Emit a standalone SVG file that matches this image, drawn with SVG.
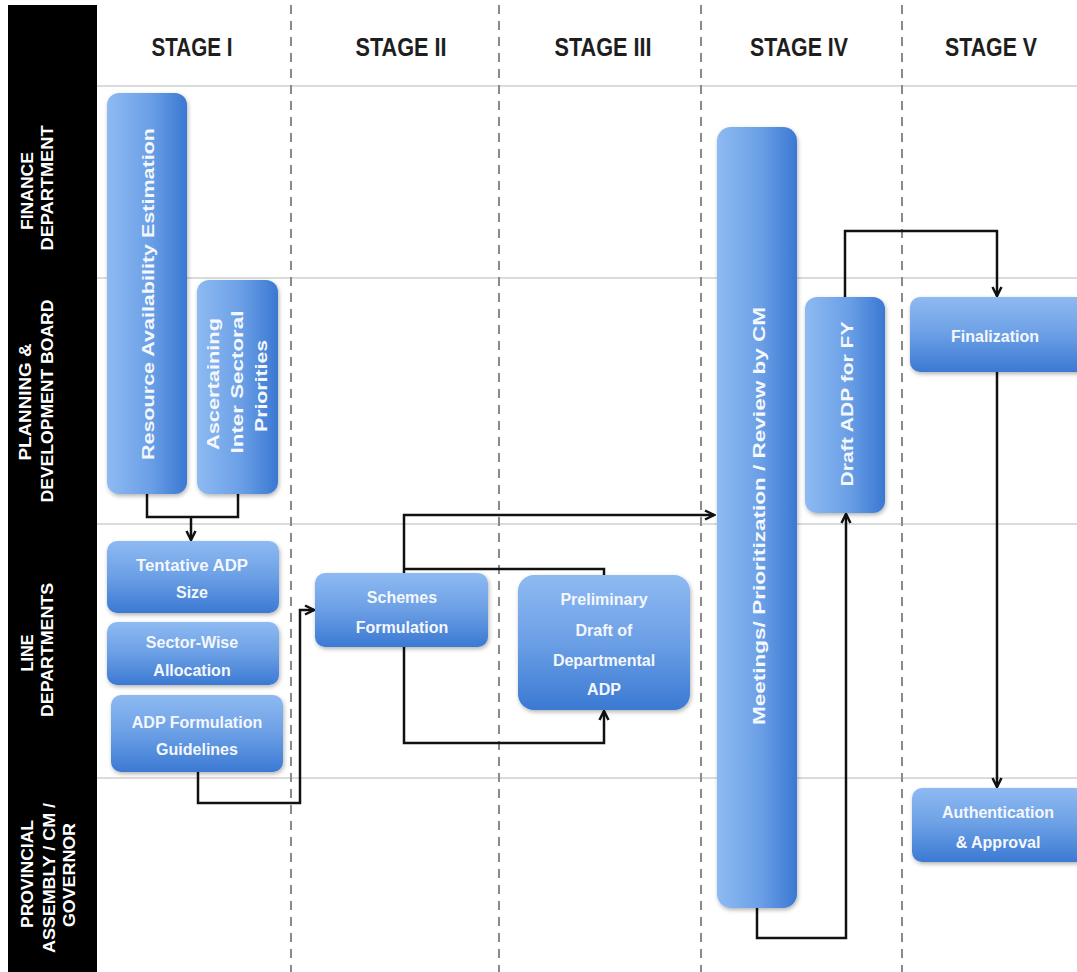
<svg xmlns="http://www.w3.org/2000/svg" width="1077" height="972" viewBox="0 0 1077 972">
<defs>
<style>
.lane{stroke:#cfcfcf;stroke-width:1.5}
.div{stroke:#8a8a8a;stroke-width:2;stroke-dasharray:9,7}
.hdr{font-family:"Liberation Sans",Arial,sans-serif;font-weight:bold;font-size:25px;fill:#1e1e1e;text-anchor:middle}
.lbl{font-family:"Liberation Sans",Arial,sans-serif;font-weight:bold;font-size:17px;fill:#fff;text-anchor:middle}
.bt{font-family:"Liberation Sans",Arial,sans-serif;font-weight:bold;font-size:16px;fill:#f4f7fc;text-anchor:middle}
.vbox{fill:url(#gv);filter:url(#sh)}
.hbox{fill:url(#gh);filter:url(#sh)}
.con{fill:none;stroke:#111;stroke-width:2.5}
</style>
<linearGradient id="gv" x1="0" y1="0" x2="1" y2="0">
<stop offset="0" stop-color="#8ebaf2"/><stop offset="0.55" stop-color="#6a9fe6"/><stop offset="1" stop-color="#3a78d2"/>
</linearGradient>
<linearGradient id="gh" x1="0" y1="0" x2="0" y2="1">
<stop offset="0" stop-color="#8ebaf2"/><stop offset="0.5" stop-color="#6b9fe5"/><stop offset="1" stop-color="#3b79d3"/>
</linearGradient>
<filter id="sh" x="-20%" y="-20%" width="140%" height="140%">
<feDropShadow dx="1" dy="2" stdDeviation="2" flood-color="#000" flood-opacity="0.3"/>
</filter>
<marker id="arr" viewBox="0 0 12 12" refX="10.5" refY="6" markerWidth="12" markerHeight="12" markerUnits="userSpaceOnUse" orient="auto">
<path d="M1.5,1.5 L10.5,6 L1.5,10.5" fill="none" stroke="#111" stroke-width="2.5"/>
</marker>
</defs>
<rect width="1077" height="972" fill="#fff"/>
<g id="grid">
<line class="lane" x1="97" y1="86" x2="1077" y2="86"/>
<line class="lane" x1="97" y1="278" x2="1077" y2="278"/>
<line class="lane" x1="97" y1="524" x2="1077" y2="524"/>
<line class="lane" x1="97" y1="778" x2="1077" y2="778"/>
<line class="div" x1="291" y1="5" x2="291" y2="972"/>
<line class="div" x1="499" y1="5" x2="499" y2="972"/>
<line class="div" x1="701" y1="5" x2="701" y2="972"/>
<line class="div" x1="902" y1="5" x2="902" y2="972"/>
</g>
<g id="lanes">
<rect x="8" y="5" width="89" height="967" fill="#000"/>
<text class="lbl" transform="translate(33,191) rotate(-90)" textLength="78" lengthAdjust="spacingAndGlyphs">FINANCE</text>
<text class="lbl" transform="translate(53,188) rotate(-90)" textLength="125" lengthAdjust="spacingAndGlyphs">DEPARTMENT</text>
<text class="lbl" transform="translate(31,402) rotate(-90)" textLength="117" lengthAdjust="spacingAndGlyphs">PLANNING &amp;</text>
<text class="lbl" transform="translate(53,401) rotate(-90)" textLength="203" lengthAdjust="spacingAndGlyphs">DEVELOPMENT BOARD</text>
<text class="lbl" transform="translate(33,653) rotate(-90)" textLength="37" lengthAdjust="spacingAndGlyphs">LINE</text>
<text class="lbl" transform="translate(53,650) rotate(-90)" textLength="134" lengthAdjust="spacingAndGlyphs">DEPARTMENTS</text>
<text class="lbl" transform="translate(33,874) rotate(-90)" textLength="108" lengthAdjust="spacingAndGlyphs">PROVINCIAL</text>
<text class="lbl" transform="translate(55,878) rotate(-90)" textLength="150" lengthAdjust="spacingAndGlyphs">ASSEMBLY / CM /</text>
<text class="lbl" transform="translate(75,875) rotate(-90)" textLength="104" lengthAdjust="spacingAndGlyphs">GOVERNOR</text>
</g>
<g id="headers">
<text class="hdr" x="192" y="56" textLength="81" lengthAdjust="spacingAndGlyphs">STAGE I</text>
<text class="hdr" x="401" y="56" textLength="91" lengthAdjust="spacingAndGlyphs">STAGE II</text>
<text class="hdr" x="603" y="56" textLength="97" lengthAdjust="spacingAndGlyphs">STAGE III</text>
<text class="hdr" x="799" y="56" textLength="98" lengthAdjust="spacingAndGlyphs">STAGE IV</text>
<text class="hdr" x="991" y="56" textLength="92" lengthAdjust="spacingAndGlyphs">STAGE V</text>
</g>
<g id="connectors">
<path class="con" d="M147,494 V517 H238 V494"/>
<path class="con" d="M191,517 V540" marker-end="url(#arr)"/>
<path class="con" d="M198,772 V803 H300 V610 H314" marker-end="url(#arr)"/>
<path class="con" d="M404,573 V515 H714" marker-end="url(#arr)"/>
<path class="con" d="M604,575 V569 H404"/>
<path class="con" d="M404,647 V743 H604 V711" marker-end="url(#arr)"/>
<path class="con" d="M757,908 V938 H846 V514" marker-end="url(#arr)"/>
<path class="con" d="M845,297 V231 H997 V296" marker-end="url(#arr)"/>
<path class="con" d="M997,372 V787" marker-end="url(#arr)"/>
</g>
<g id="n-resource">
<rect class="vbox" x="107" y="93" width="80" height="401" rx="12"/>
<text class="bt" font-size="17" transform="translate(154,294) rotate(-90)" textLength="332" lengthAdjust="spacingAndGlyphs">Resource Availability  Estimation</text>
</g>
<g id="n-ascertaining">
<rect class="vbox" x="197" y="280" width="81" height="214" rx="12"/>
<text class="bt" font-size="17" transform="translate(219,384) rotate(-90)" textLength="132" lengthAdjust="spacingAndGlyphs">Ascertaining</text>
<text class="bt" font-size="17" transform="translate(243,382) rotate(-90)" textLength="143" lengthAdjust="spacingAndGlyphs">Inter Sectoral</text>
<text class="bt" font-size="17" transform="translate(267,386) rotate(-90)" textLength="92" lengthAdjust="spacingAndGlyphs">Priorities</text>
</g>
<g id="n-tentative">
<rect class="hbox" x="107" y="541" width="172" height="72" rx="10"/>
<text class="bt" x="192" y="571" textLength="112" lengthAdjust="spacingAndGlyphs">Tentative ADP</text>
<text class="bt" x="192" y="598">Size</text>
</g>
<g id="n-sector">
<rect class="hbox" x="107" y="622" width="172" height="63" rx="10"/>
<text class="bt" x="192" y="648">Sector-Wise</text>
<text class="bt" x="192" y="676">Allocation</text>
</g>
<g id="n-guidelines">
<rect class="hbox" x="111" y="695" width="172" height="77" rx="10"/>
<text class="bt" x="197" y="728">ADP Formulation</text>
<text class="bt" x="197" y="755">Guidelines</text>
</g>
<g id="n-schemes">
<rect class="hbox" x="315" y="573" width="173" height="74" rx="10"/>
<text class="bt" x="402" y="603">Schemes</text>
<text class="bt" x="402" y="633">Formulation</text>
</g>
<g id="n-preliminary">
<rect class="hbox" x="518" y="575" width="172" height="135" rx="16"/>
<text class="bt" x="604" y="605">Preliminary</text>
<text class="bt" x="604" y="636">Draft  of</text>
<text class="bt" x="604" y="666">Departmental</text>
<text class="bt" x="604" y="695">ADP</text>
</g>
<g id="n-meetings">
<rect class="vbox" x="717" y="127" width="80" height="781" rx="14"/>
<text class="bt" font-size="17" transform="translate(765,516) rotate(-90)" textLength="418" lengthAdjust="spacingAndGlyphs">Meetings/ Prioritization  /  Review by CM</text>
</g>
<g id="n-draft">
<rect class="vbox" x="805" y="297" width="80" height="216" rx="12"/>
<text class="bt" font-size="17" transform="translate(853,404) rotate(-90)" textLength="165" lengthAdjust="spacingAndGlyphs">Draft  ADP for  FY</text>
</g>
<g id="n-finalization">
<rect class="hbox" x="910" y="297" width="180" height="75" rx="10"/>
<text class="bt" x="995" y="342">Finalization</text>
</g>
<g id="n-authentication">
<rect class="hbox" x="912" y="788" width="180" height="74" rx="10"/>
<text class="bt" x="998" y="818">Authentication</text>
<text class="bt" x="998" y="848">&amp; Approval</text>
</g>
</svg>
